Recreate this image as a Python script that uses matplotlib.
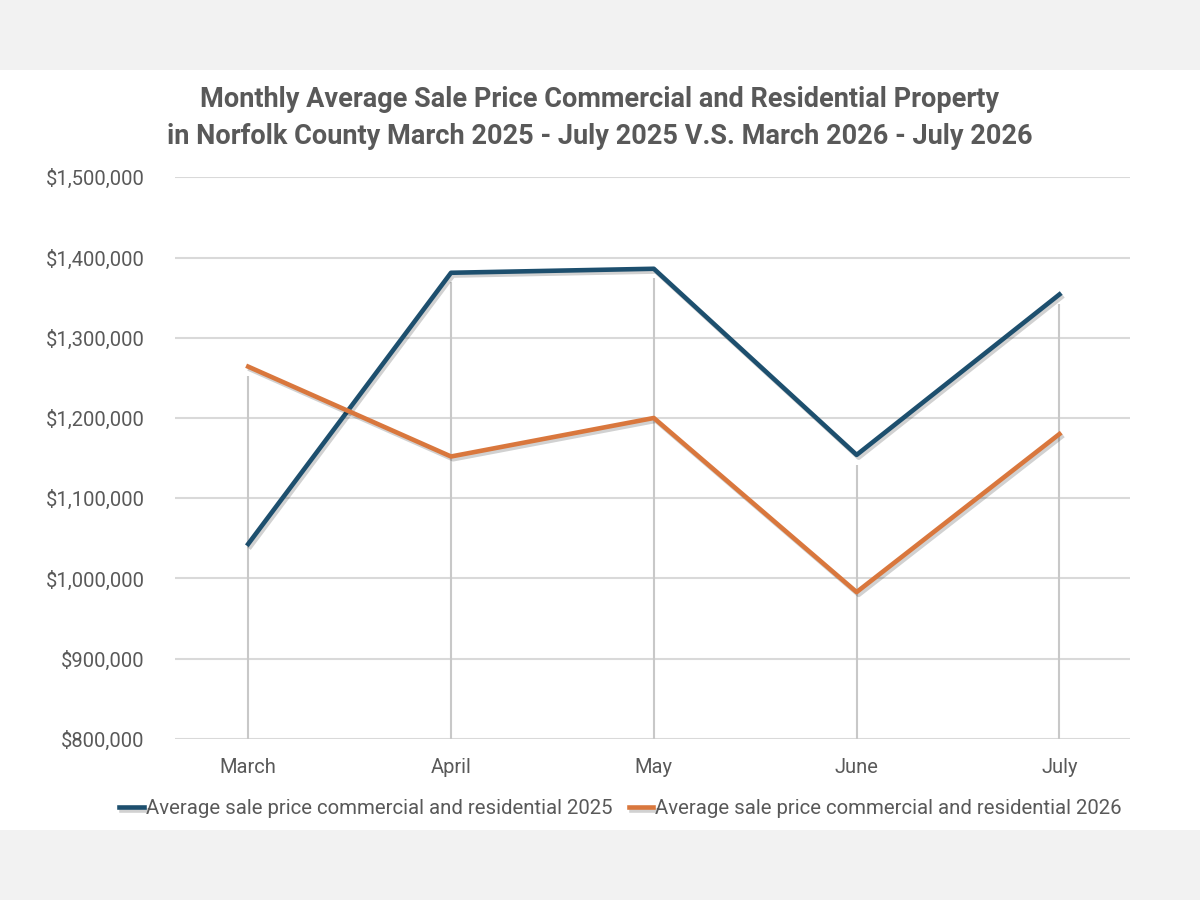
import matplotlib
matplotlib.use("Agg")
import matplotlib.pyplot as plt
import matplotlib.patheffects as pe
from matplotlib.patches import Rectangle
from matplotlib.ticker import FuncFormatter

months = ["March", "April", "May", "June", "July"]
sales_2025 = [1043000, 1381000, 1386000, 1154000, 1354000]
sales_2026 = [1264000, 1152000, 1200000, 983000, 1180000]
label_2025 = "Average sale price commercial and residential 2025"
label_2026 = "Average sale price commercial and residential 2026"
title = ("Monthly Average Sale Price Commercial and Residential Property\n"
         "in Norfolk County March 2025 - July 2025 V.S. March 2026 - July 2026")

grey_txt = "#595959"
blue = "#1d4f6e"
orange = "#d9773d"

plt.rcParams['font.family'] = ['Roboto', 'DejaVu Sans']

fig = plt.figure(figsize=(12, 9), dpi=100, facecolor="#f2f2f2")
fig.patches.append(Rectangle((0, 0.078), 1, 0.844, transform=fig.transFigure,
                             facecolor="white", edgecolor="none", zorder=-5))

ax = fig.add_axes([0.146, 0.179, 0.796, 0.624])
ax.set_facecolor("none")
ax.set_zorder(2)
x = list(range(len(months)))

# drop lines from the highest point down to the axis
tops = [max(a, b) - 12000 for a, b in zip(sales_2025, sales_2026)]
ax.vlines(x, 800000, tops, color="#c8c8c8", lw=1.5, zorder=1)

shadow = [pe.SimpleLineShadow(offset=(1.5, -2), alpha=0.18), pe.Normal()]
ax.plot(x, sales_2025, color=blue, lw=3.3, label=label_2025, zorder=3,
        path_effects=shadow)
ax.plot(x, sales_2026, color=orange, lw=3.3, label=label_2026, zorder=3,
        path_effects=shadow)

ax.set_ylim(800000, 1500000)
ax.set_yticks(range(800000, 1500001, 100000))
ax.yaxis.set_major_formatter(FuncFormatter(lambda v, p: f"${v:,.0f}"))
ax.set_xlim(-0.36, 4.35)
ax.set_xticks(x)
ax.set_xticklabels(months)
ax.grid(axis="y", color="#d9d9d9", lw=1.5, zorder=0)
ax.set_axisbelow(True)
for s in ax.spines.values():
    s.set_visible(False)
ax.tick_params(length=0, labelsize=14.5, colors=grey_txt, pad=14)
ax.tick_params(axis="y", pad=22)

fig.text(0.5, 0.869, title, ha="center", va="center", fontsize=19.5,
         fontweight="bold", color=grey_txt, linespacing=1.5)

ax.legend(loc="center", bbox_to_anchor=(0.517, 0.1015), bbox_transform=fig.transFigure,
          ncol=2, frameon=False, fontsize=14.7, labelcolor=grey_txt,
          handlelength=1.2, handletextpad=0.1, columnspacing=0.8)

fig.savefig("out.png", dpi=100, facecolor=fig.get_facecolor())
